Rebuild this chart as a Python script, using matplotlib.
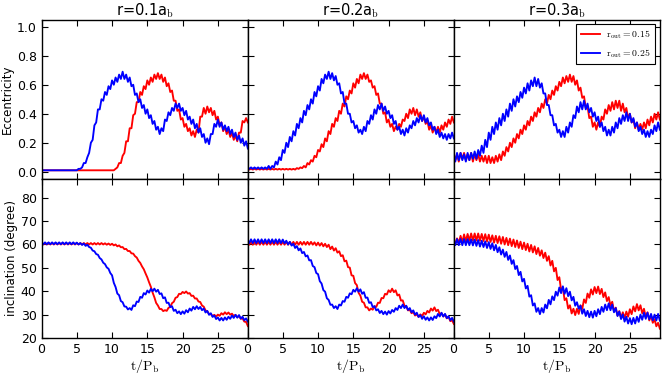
import numpy as np
import matplotlib
matplotlib.use("Agg")
import matplotlib.pyplot as plt

# ---------------- data (sampled every 0.25 t/P_b) ----------------
dt = 0.25
titles = [r"r=0.1a$_\mathrm{b}$", r"r=0.2a$_\mathrm{b}$", r"r=0.3a$_\mathrm{b}$"]
labels = [r"$\mathrm{r_{out}=0.15}$", r"$\mathrm{r_{out}=0.25}$"]

# eccentricity in units of 0.01
ecc_red_1 = [1]*40 + [1,1,2,3, 6,6,11,13, 21,21,30,30, 39,40,48,48, 55,53,59,57, 63,60,65,62,
    67,64,68,64, 67,62,65,59, 61,55,56,49, 49,42,43,36, 37,31,33,28, 30,25,28,24, 29,27,38,38,
    44,40,45,41, 44,39,42,36, 38,32,34,28, 31,26,29,24, 27,22,25,21, 27,27,35,34, 37,34]
ecc_blue_1 = [1]*20 + [1,2,2,3, 6,6,10,13, 20,22,32,34, 43,43,50,49, 55,53,59,57, 63,60,65,62,
    67,64,69,64, 67,62,65,59, 60,53,54,48, 50,44,46,40, 43,37,39,33, 35,29,31,26, 30,28,36,35,
    41,39,44,42, 47,44,47,42, 44,39,42,36, 38,33,36,30, 33,27,30,24, 26,20,23,19, 26,26,33,31,
    36,31,34,29, 32,28,31,26, 29,24,27,22, 25,20,23,18, 21,16]
ecc_red_2 = [2,1.5]*14 + [2.5,2,3,2.5, 4,3,6,5, 8,7,11,10, 15,14,19,17, 23,21,28,26, 33,31,37,35,
    42,40,47,45, 52,50,56,54, 61,58,64,61, 67,64,68,64, 67,62,63,58, 59,53,54,47, 47,40,41,34,
    36,31,33,28, 31,29,33,31, 36,35,40,37, 43,40,44,39, 43,38,41,35, 38,33,35,29, 32,27,31,27,
    31,27,32,29, 34,31,36,33, 38,34]
ecc_blue_2 = [3,2,3,2, 3,2,3,2, 3,2,3,2, 4,2,4,3, 7,5,10,8, 15,13,20,17, 24,21,28,25, 33,30,37,34,
    42,39,46,43, 50,47,55,52, 59,56,64,61, 67,64,69,64, 68,63,66,60, 61,54,55,47, 47,40,40,34,
    35,30,32,27, 29,26,31,28, 35,33,39,36, 43,40,46,43, 47,42,45,40, 42,37,39,33, 35,29,31,26,
    29,25,30,27, 32,30,35,32, 37,34,39,35, 39,34,37,32, 34,29,31,26, 29,24,27,23, 26,22,26,23, 27,23]
ecc_red_3 = [13,8,12,7, 13,9,13,8, 12,8,13,7, 12,8,12,7, 11,7,11,6, 11,6,10,6, 11,7,12,8, 14,11,17,14,
    20,17,23,20, 26,23,29,26, 32,29,35,32, 38,35,41,38, 44,41,47,44, 50,47,53,50, 56,53,59,56,
    62,59,65,61, 66,62,67,62, 66,60,63,56, 58,51,52,44, 45,37,38,31, 34,29,34,31, 38,36,43,40,
    46,42,48,43, 49,44,49,42, 47,41,44,37, 40,34,36,30, 34,29,33,29, 34,30,36,32, 38,34,40,36, 41,36]
ecc_blue_3 = [12,7,13,8, 13,8,12,7, 13,8,13,9, 14,9,15,11, 18,13,22,17, 27,22,31,26, 34,29,37,32,
    40,35,43,38, 47,42,50,45, 52,48,55,51, 58,54,61,56, 63,59,65,59, 64,58,61,54, 54,46,46,39,
    39,32,33,27, 29,24,28,24, 31,27,34,31, 39,37,45,41, 48,43,49,43, 47,41,44,38, 41,35,38,31,
    34,28,31,25, 29,25,31,27, 34,30,37,33, 39,35,41,35, 40,34,37,31, 34,28,31,26, 29,24,28,24,
    29,26,32,28, 34,29]

# inclination in degrees
inc_red_1 = [60.6,60.0]*18 + [60.5,59.9,60.4,59.8, 60.3,59.6,60.0,59.2, 59.6,58.8,58.9,58.0,
    58.1,57.2,57.2,56.2, 56.1,55.0,54.4,53.0, 52.1,50.6,49.4,47.6, 45.9,43.8,41.9,39.4,
    37.4,35.0,33.9,32.4, 32.4,31.5,31.9,31.6, 32.9,33.3,34.9,35.5, 37.2,37.5,38.9,38.8,
    39.7,39.2,39.9,39.0, 39.2,38.0,38.1,36.9, 36.9,35.6,35.4,33.9, 33.4,31.8,31.4,30.3,
    30.2,29.4,29.9,29.2, 30.0,29.5,30.6,30.0, 31.0,30.2,30.9,30.0, 30.4,29.4,29.9,28.9,
    29.4,28.2,28.4,27.0, 26.9,25.1]
inc_blue_1 = [60.9,60.1]*10 + [60.8,60.0,60.6,59.8, 60.4,59.4,59.9,58.9, 58.6,57.4,57.1,55.9,
    55.6,54.2,53.6,52.2, 51.6,50.2,49.6,47.8, 46.8,43.6,41.8,39.0, 38.3,35.8,35.3,33.5,
    33.4,32.2,32.8,32.0, 34.0,33.6,35.6,35.4, 37.6,37.2,39.2,38.6, 40.3,39.4,41.0,40.0,
    41.1,39.8,40.6,38.8, 39.1,37.0,37.4,35.0, 35.1,33.2,33.6,31.6, 32.1,30.6,31.4,30.2,
    31.4,30.4,31.9,31.0, 32.6,31.7,33.3,32.3, 33.6,32.4,33.3,31.9, 32.6,30.9,31.6,29.9,
    30.6,29.0,29.6,28.1, 28.8,27.5,28.6,27.5, 28.8,27.8,29.1,28.2, 29.6,28.6,29.9,28.7,
    29.8,28.3,29.1,27.6, 28.4,27.0]
inc_red_2 = [61.1,59.9]*19 + [60.9,59.6, 60.8,59.5,60.6,59.2, 60.3,58.9,59.9,58.0, 59.1,57.4,58.4,56.5,
    57.1,55.0,55.4,52.8, 53.1,50.3,50.1,46.8, 46.6,43.5,42.6,39.3, 38.1,35.5,35.1,33.1,
    33.1,31.8,32.6,32.1, 33.6,33.3,35.1,35.0, 37.1,37.0,38.9,38.6, 40.4,39.6,41.1,39.6,
    40.4,38.2,38.6,36.0, 36.1,33.8,33.6,31.8, 32.1,30.6,31.1,29.6, 30.1,29.0,30.1,29.4,
    30.8,30.1,31.6,30.9, 32.6,31.7,33.1,31.5, 32.1,30.2,30.6,29.2, 30.1,28.4,29.1,27.2, 27.6,26.0]
inc_blue_2 = [62.2,60.6]*10 + [62.1,60.5,61.6,60.0, 61.1,59.5,60.3,58.5, 59.3,57.5,58.3,56.3,
    56.8,54.9,55.3,53.2, 53.3,50.8,50.3,47.8, 47.3,44.3,43.3,40.5, 39.8,37.0,36.3,34.2,
    34.3,32.8,33.6,32.4, 34.3,33.9,35.8,35.5, 37.6,37.2,39.1,38.7, 40.6,39.8,41.3,39.8,
    40.8,38.9,39.6,37.2, 37.3,35.0,35.3,33.2, 33.6,31.8,32.3,30.7, 31.6,30.2,31.3,30.0,
    31.5,30.5,32.0,31.2, 32.8,32.0,33.8,32.8, 34.3,32.8,33.8,32.0, 32.8,31.0,31.8,30.0,
    30.8,29.0,29.8,28.2, 29.3,27.8,28.8,27.5, 28.8,27.7,29.3,28.5, 30.3,29.2,30.8,29.2,
    30.3,28.5,29.3,27.6, 28.6,27.0]
inc_red_3 = [60.0,60.4,62.6,60.6, 63.7,60.9,64.3,61.3, 64.5,61.6,64.7,61.7, 64.7,61.7,64.7,61.6,
    64.5,61.5,64.4,61.3, 64.2,61.1,63.9,60.8, 63.7,60.6,63.5,60.3, 63.2,60.0,62.8,59.7,
    62.5,59.3,62.1,58.9, 61.7,58.5,61.2,58.0, 60.8,57.6,60.3,57.0, 59.8,56.6,59.2,55.9,
    58.5,55.2,57.5,54.2, 56.5,53.0,55.0,51.0, 53.0,48.5,50.0,44.8, 46.0,40.5,41.5,36.2,
    37.0,32.6,34.0,30.5, 32.5,29.8,32.5,30.3, 34.0,32.4,36.5,35.0, 39.0,37.2,40.8,38.6,
    41.8,39.2,42.0,38.8, 41.0,37.5,39.5,35.8, 37.5,33.8,35.5,31.5, 33.0,29.6,31.5,28.6,
    31.0,28.5,31.3,29.1, 32.3,30.2,33.5,31.4, 34.5,31.8,34.0,30.6, 32.5,29.0,31.0,27.5,
    29.5,26.5,28.0,25.0, 26.5,24.0]
inc_blue_3 = [62.3,59.7,62.3,59.7, 62.3,59.7,62.3,59.7, 62.3,59.7,62.2,59.6, 62.1,59.4,61.9,59.1,
    61.6,58.9,61.3,58.5, 61.0,58.1,60.5,57.5, 59.8,56.7,58.8,55.7, 57.8,54.7,56.8,53.4,
    55.3,51.7,53.3,49.5, 50.8,46.9,48.3,44.2, 45.3,41.2,42.3,37.7, 38.3,33.9,34.8,31.2,
    32.8,30.2,32.8,30.9, 34.3,32.7,36.3,34.4, 37.8,36.2,39.8,38.1, 41.6,39.2,42.1,38.9,
    41.3,37.9,39.8,36.1, 37.6,33.8,35.3,32.5, 33.8,30.4,32.3,29.4, 31.6,28.9,31.3,28.7,
    31.6,29.3,32.3,30.2, 33.3,31.2,34.3,31.9, 34.8,31.9,34.3,31.0, 32.8,29.4,31.3,28.1,
    30.1,27.0,29.1,26.2, 28.5,25.9,28.6,26.2, 29.1,26.9,30.0,27.8, 30.8,28.2,30.8,28.0,
    30.3,27.6,30.0,27.5, 30.3,27.4]

# value of the very first output sample (t=0) for runs 2 and 3 (None = no such sample)
ecc_start_red = [None, -15, -15]
ecc_start_blue = [None, -15, -15]
inc_start_red = [None, 10.0, 10.0]
inc_start_blue = [None, None, 95.0]

ecc_red = [ecc_red_1, ecc_red_2, ecc_red_3]
ecc_blue = [ecc_blue_1, ecc_blue_2, ecc_blue_3]
inc_red = [inc_red_1, inc_red_2, inc_red_3]
inc_blue = [inc_blue_1, inc_blue_2, inc_blue_3]

# ---------------- style ----------------
plt.rcParams.update({
    "font.family": ["DejaVu Sans"],
    "mathtext.fontset": "cm",
    "mathtext.default": "regular",
    "xtick.direction": "in", "ytick.direction": "in",
    "xtick.top": True, "ytick.right": True,
    "xtick.major.size": 4.5, "ytick.major.size": 4.5,
    "xtick.major.width": 0.8, "ytick.major.width": 0.8,
    "axes.linewidth": 1.0,
    "xtick.labelsize": 9, "ytick.labelsize": 9,
})

fig = plt.figure(figsize=(6.64, 3.76), dpi=100)
L, W = 41.5/664, 206.0/664
top_y, mid_y, bot_y = 1-19.5/376, 1-179/376, 1-338/376

def series(vals, start, scale=1.0):
    v = np.asarray(vals, dtype=float)*scale
    t = np.arange(len(v))*dt
    if start is not None:
        t = np.concatenate([[0.0], t])
        v = np.concatenate([[start*scale], v])
    return t, v

LW = 1.35
for j in range(3):
    axt = fig.add_axes([L + j*W, mid_y, W, top_y - mid_y])
    axb = fig.add_axes([L + j*W, bot_y, W, mid_y - bot_y])
    for ax in (axt, axb):
        ax.set_xlim(0, 29.2)
        ax.set_xticks([0, 5, 10, 15, 20, 25])
    t, v = series(ecc_red[j], ecc_start_red[j], 0.01)
    axt.plot(t, v, color="red", lw=LW, label=labels[0])
    t, v = series(ecc_blue[j], ecc_start_blue[j], 0.01)
    axt.plot(t, v, color="blue", lw=LW, label=labels[1])
    t, v = series(inc_red[j], inc_start_red[j])
    axb.plot(t, v, color="red", lw=LW)
    t, v = series(inc_blue[j], inc_start_blue[j])
    axb.plot(t, v, color="blue", lw=LW)

    axt.set_ylim(-0.05, 1.05)
    axt.set_yticks([0.0, 0.2, 0.4, 0.6, 0.8, 1.0])
    axb.set_ylim(20, 88)
    axb.set_yticks([20, 30, 40, 50, 60, 70, 80])
    axt.set_xticklabels([])
    axt.set_title(titles[j], fontsize=10.5, pad=3)
    axb.set_xlabel(r"$\mathrm{t/P_b}$", fontsize=10, labelpad=1)
    if j == 0:
        axt.set_ylabel("Eccentricity", fontsize=8.5, labelpad=2)
        axb.set_ylabel("inclination (degree)", fontsize=8.5, labelpad=2)
    else:
        axt.set_yticklabels([])
        axb.set_yticklabels([])
    if j == 2:
        leg = axt.legend(loc="upper right", fontsize=7, handlelength=2.0,
                         handletextpad=0.6, labelspacing=0.6, borderpad=0.45,
                         fancybox=False, framealpha=1, borderaxespad=0.5)
        leg.get_frame().set_edgecolor("black")
        leg.get_frame().set_linewidth(0.8)

fig.savefig("out.png", dpi=100)
